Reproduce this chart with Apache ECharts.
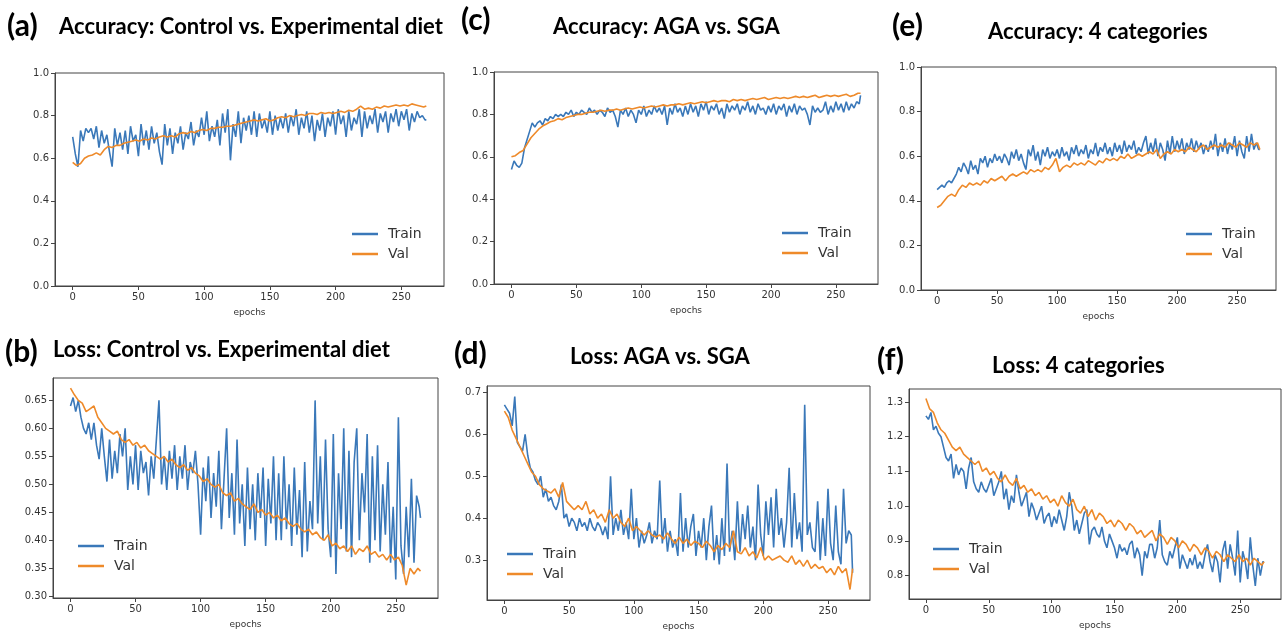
<!DOCTYPE html>
<html>
<head>
<meta charset="utf-8">
<script src="https://cdn.jsdelivr.net/npm/echarts@6/dist/echarts.min.js"></script>
<style>
  html, body { margin: 0; padding: 0; background: #fff; }
  #chart { width: 1282px; height: 632px; }
</style>
</head>
<body>
<div id="chart"></div>
<script>
// train curves are read every 2 epochs, val curves every 3 (plus the last epoch)
const trainEpochs = [0,2,4,6,8,10,12,14,16,18,20,22,24,26,28,30,32,34,36,38,40,42,44,46,48,50,52,54,56,58,
  60,62,64,66,68,70,72,74,76,78,80,82,84,86,88,90,92,94,96,98,100,102,104,106,108,110,112,114,116,118,
  120,122,124,126,128,130,132,134,136,138,140,142,144,146,148,150,152,154,156,158,160,162,164,166,168,170,172,174,176,178,
  180,182,184,186,188,190,192,194,196,198,200,202,204,206,208,210,212,214,216,218,220,222,224,226,228,230,232,234,236,238,
  240,242,244,246,248,250,252,254,256,258,260,262,264,266,268,269]
const valEpochs = [0,3,6,9,12,15,18,21,24,27,30,33,36,39,42,45,48,51,54,57,60,63,66,69,72,75,78,81,84,87,
  90,93,96,99,102,105,108,111,114,117,120,123,126,129,132,135,138,141,144,147,150,153,156,159,162,165,168,171,174,177,
  180,183,186,189,192,195,198,201,204,207,210,213,216,219,222,225,228,231,234,237,240,243,246,249,252,255,258,261,264,267,269]

// (a) accuracy: control vs experimental diet
const trainAccA = [0.70,0.62,0.56,0.73,0.68,0.74,0.72,0.74,0.69,0.75,
  0.65,0.73,0.67,0.71,0.63,0.56,0.74,0.66,0.72,0.64,
  0.73,0.62,0.75,0.68,0.71,0.61,0.76,0.66,0.73,0.64,
  0.75,0.67,0.72,0.63,0.57,0.76,0.66,0.74,0.62,0.72,
  0.67,0.75,0.64,0.72,0.69,0.77,0.66,0.73,0.70,0.79,
  0.71,0.82,0.68,0.75,0.70,0.78,0.66,0.81,0.72,0.83,
  0.59,0.76,0.70,0.82,0.67,0.79,0.73,0.80,0.71,0.82,
  0.70,0.81,0.74,0.78,0.72,0.82,0.71,0.80,0.73,0.79,
  0.74,0.81,0.72,0.80,0.75,0.83,0.71,0.79,0.74,0.82,
  0.72,0.80,0.68,0.78,0.73,0.81,0.70,0.79,0.75,0.82,
  0.71,0.83,0.76,0.80,0.70,0.82,0.73,0.79,0.76,0.83,
  0.70,0.82,0.74,0.80,0.76,0.83,0.72,0.81,0.77,0.82,
  0.72,0.81,0.77,0.83,0.75,0.82,0.78,0.83,0.73,0.81,
  0.77,0.82,0.79,0.80,0.78,0.78]
const valAccA = [0.58,0.565,0.575,0.60,0.61,0.615,0.625,0.615,0.64,0.655,
  0.65,0.66,0.66,0.67,0.675,0.68,0.685,0.68,0.69,0.685,
  0.695,0.69,0.70,0.705,0.70,0.705,0.70,0.715,0.72,0.715,
  0.725,0.72,0.73,0.735,0.73,0.74,0.74,0.745,0.745,0.75,
  0.75,0.755,0.76,0.765,0.77,0.775,0.78,0.775,0.78,0.785,
  0.775,0.78,0.79,0.795,0.79,0.80,0.795,0.80,0.805,0.80,
  0.81,0.81,0.805,0.815,0.81,0.815,0.81,0.815,0.82,0.815,
  0.825,0.82,0.83,0.845,0.83,0.835,0.83,0.84,0.835,0.845,
  0.84,0.845,0.85,0.845,0.85,0.845,0.855,0.85,0.845,0.84,0.845]

// (c) accuracy: AGA vs SGA
const trainAccC = [0.54,0.58,0.56,0.55,0.57,0.64,0.68,0.72,0.76,0.74,
  0.76,0.77,0.75,0.78,0.77,0.79,0.78,0.80,0.79,0.80,
  0.79,0.81,0.80,0.82,0.79,0.81,0.80,0.82,0.81,0.80,
  0.83,0.81,0.82,0.80,0.82,0.81,0.79,0.83,0.81,0.82,
  0.79,0.74,0.82,0.80,0.83,0.79,0.82,0.80,0.76,0.82,
  0.80,0.84,0.79,0.82,0.80,0.84,0.81,0.83,0.80,0.84,
  0.75,0.83,0.80,0.85,0.81,0.83,0.79,0.84,0.80,0.85,
  0.81,0.84,0.79,0.85,0.82,0.86,0.80,0.84,0.82,0.85,
  0.80,0.83,0.78,0.85,0.81,0.84,0.82,0.85,0.80,0.84,
  0.82,0.86,0.81,0.84,0.80,0.85,0.82,0.83,0.80,0.84,
  0.81,0.85,0.80,0.84,0.82,0.85,0.79,0.84,0.81,0.85,
  0.80,0.84,0.82,0.83,0.80,0.75,0.84,0.81,0.83,0.81,
  0.82,0.86,0.80,0.84,0.81,0.86,0.82,0.85,0.81,0.86,
  0.82,0.85,0.83,0.86,0.85,0.89]
const valAccC = [0.60,0.605,0.62,0.63,0.66,0.69,0.71,0.73,0.745,0.755,
  0.765,0.77,0.78,0.775,0.785,0.79,0.795,0.80,0.80,0.805,
  0.81,0.81,0.815,0.82,0.815,0.82,0.82,0.825,0.82,0.825,
  0.83,0.825,0.83,0.835,0.83,0.835,0.84,0.835,0.84,0.845,
  0.84,0.845,0.845,0.85,0.845,0.85,0.855,0.85,0.855,0.86,
  0.855,0.86,0.865,0.86,0.865,0.865,0.86,0.87,0.865,0.87,
  0.865,0.87,0.875,0.87,0.875,0.88,0.87,0.875,0.88,0.875,
  0.88,0.875,0.88,0.885,0.88,0.885,0.88,0.885,0.89,0.88,
  0.885,0.89,0.885,0.89,0.885,0.89,0.895,0.885,0.89,0.90,0.90]

// (e) accuracy: 4 categories
const trainAccE = [0.45,0.46,0.47,0.46,0.48,0.49,0.48,0.50,0.52,0.55,
  0.53,0.57,0.55,0.52,0.58,0.54,0.56,0.52,0.59,0.57,
  0.60,0.55,0.59,0.57,0.61,0.58,0.60,0.57,0.61,0.59,
  0.56,0.62,0.59,0.63,0.58,0.61,0.57,0.54,0.63,0.60,
  0.65,0.58,0.62,0.56,0.63,0.60,0.64,0.59,0.62,0.60,
  0.63,0.59,0.64,0.60,0.62,0.58,0.64,0.61,0.65,0.60,
  0.63,0.61,0.65,0.59,0.63,0.61,0.66,0.60,0.64,0.62,
  0.66,0.61,0.64,0.60,0.66,0.62,0.65,0.61,0.67,0.62,
  0.65,0.63,0.67,0.61,0.64,0.62,0.66,0.69,0.61,0.66,
  0.62,0.68,0.60,0.66,0.63,0.58,0.67,0.61,0.69,0.62,
  0.67,0.63,0.68,0.61,0.66,0.63,0.68,0.62,0.67,0.63,
  0.66,0.61,0.65,0.62,0.67,0.63,0.70,0.60,0.66,0.62,
  0.68,0.61,0.66,0.63,0.69,0.60,0.67,0.62,0.59,0.69,
  0.62,0.70,0.63,0.66,0.63,0.63]
const valAccE = [0.37,0.38,0.40,0.42,0.43,0.42,0.45,0.47,0.46,0.48,
  0.47,0.48,0.47,0.49,0.48,0.50,0.49,0.50,0.51,0.49,
  0.51,0.52,0.51,0.52,0.53,0.52,0.54,0.53,0.54,0.53,
  0.55,0.54,0.56,0.59,0.53,0.55,0.56,0.55,0.57,0.56,
  0.57,0.56,0.58,0.57,0.56,0.58,0.57,0.59,0.58,0.59,
  0.58,0.60,0.59,0.61,0.59,0.60,0.61,0.60,0.61,0.62,
  0.61,0.63,0.59,0.61,0.62,0.61,0.63,0.62,0.63,0.62,
  0.64,0.63,0.62,0.64,0.65,0.63,0.64,0.65,0.64,0.65,
  0.64,0.66,0.65,0.64,0.66,0.65,0.64,0.66,0.65,0.66,0.63]

// (b) loss: control vs experimental diet
const trainLossB = [0.64,0.655,0.63,0.65,0.62,0.60,0.59,0.61,0.58,0.61,
  0.57,0.545,0.60,0.55,0.505,0.58,0.51,0.56,0.52,0.59,
  0.55,0.60,0.49,0.55,0.50,0.57,0.49,0.56,0.52,0.54,
  0.48,0.55,0.51,0.58,0.65,0.50,0.55,0.49,0.56,0.51,
  0.57,0.49,0.55,0.51,0.57,0.49,0.54,0.52,0.56,0.50,
  0.41,0.53,0.47,0.55,0.44,0.52,0.46,0.56,0.42,0.51,
  0.60,0.44,0.52,0.41,0.58,0.43,0.50,0.39,0.53,0.42,
  0.50,0.40,0.52,0.44,0.53,0.39,0.51,0.43,0.55,0.40,
  0.52,0.40,0.55,0.42,0.50,0.39,0.53,0.41,0.49,0.37,
  0.54,0.38,0.47,0.42,0.65,0.43,0.55,0.40,0.58,0.42,
  0.37,0.59,0.34,0.52,0.42,0.60,0.38,0.56,0.37,0.54,
  0.60,0.40,0.52,0.45,0.59,0.36,0.55,0.40,0.57,0.38,
  0.50,0.41,0.54,0.36,0.46,0.33,0.62,0.39,0.34,0.46,
  0.37,0.51,0.36,0.48,0.46,0.44]
const valLossB = [0.672,0.66,0.65,0.645,0.63,0.635,0.64,0.62,0.61,0.60,
  0.595,0.59,0.595,0.58,0.575,0.58,0.57,0.575,0.565,0.57,
  0.56,0.555,0.55,0.545,0.55,0.54,0.545,0.535,0.53,0.535,
  0.525,0.53,0.52,0.515,0.505,0.51,0.50,0.495,0.50,0.485,
  0.48,0.485,0.47,0.475,0.465,0.46,0.455,0.465,0.45,0.455,
  0.445,0.45,0.44,0.445,0.435,0.44,0.43,0.425,0.43,0.42,
  0.415,0.42,0.41,0.415,0.405,0.40,0.41,0.39,0.395,0.385,
  0.39,0.38,0.39,0.375,0.385,0.38,0.39,0.375,0.38,0.37,
  0.375,0.365,0.375,0.365,0.37,0.355,0.32,0.35,0.34,0.35,0.345]

// (d) loss: AGA vs SGA
const trainLossD = [0.67,0.66,0.65,0.62,0.69,0.58,0.57,0.56,0.60,0.55,
  0.52,0.51,0.49,0.48,0.50,0.45,0.47,0.44,0.45,0.43,
  0.42,0.44,0.48,0.40,0.41,0.38,0.40,0.39,0.37,0.40,
  0.38,0.39,0.37,0.40,0.38,0.37,0.39,0.38,0.36,0.38,
  0.35,0.50,0.36,0.40,0.37,0.42,0.36,0.39,0.35,0.47,
  0.35,0.40,0.33,0.37,0.34,0.36,0.39,0.34,0.37,0.35,
  0.49,0.34,0.40,0.32,0.37,0.33,0.35,0.31,0.46,0.32,
  0.40,0.33,0.38,0.41,0.31,0.37,0.33,0.40,0.30,0.38,
  0.43,0.30,0.36,0.29,0.40,0.31,0.53,0.32,0.37,0.30,
  0.44,0.32,0.41,0.35,0.43,0.33,0.38,0.30,0.48,0.36,
  0.31,0.44,0.36,0.45,0.33,0.47,0.36,0.40,0.33,0.39,
  0.52,0.33,0.46,0.35,0.39,0.32,0.67,0.36,0.39,0.33,
  0.32,0.44,0.30,0.40,0.31,0.47,0.34,0.30,0.43,0.32,
  0.29,0.47,0.34,0.37,0.36,0.27]
const valLossD = [0.655,0.64,0.61,0.59,0.57,0.55,0.53,0.51,0.50,0.48,
  0.47,0.465,0.46,0.47,0.45,0.485,0.44,0.43,0.42,0.43,
  0.42,0.44,0.41,0.42,0.40,0.41,0.39,0.42,0.40,0.41,
  0.39,0.38,0.40,0.37,0.38,0.37,0.36,0.37,0.36,0.355,
  0.36,0.35,0.365,0.35,0.34,0.355,0.34,0.35,0.335,0.345,
  0.34,0.33,0.345,0.335,0.32,0.335,0.325,0.34,0.33,0.37,
  0.32,0.315,0.33,0.31,0.32,0.305,0.33,0.30,0.31,0.30,
  0.305,0.31,0.30,0.295,0.31,0.29,0.30,0.285,0.30,0.28,
  0.29,0.28,0.285,0.27,0.28,0.265,0.285,0.27,0.28,0.23,0.28]

// (f) loss: 4 categories
const trainLossF = [1.26,1.25,1.27,1.22,1.23,1.21,1.20,1.17,1.14,1.13,
  1.15,1.08,1.12,1.09,1.11,1.10,1.05,1.11,1.14,1.07,
  1.05,1.04,1.07,1.05,1.04,1.06,1.08,1.03,1.05,1.07,
  1.10,1.02,1.05,0.99,1.03,1.01,1.09,1.04,1.00,1.02,
  1.04,0.97,1.01,0.99,0.96,0.98,1.00,0.95,0.97,0.98,
  0.94,0.97,0.95,0.99,0.96,0.93,0.97,1.04,1.00,0.93,
  0.96,0.92,0.95,0.98,0.99,0.89,0.93,0.94,0.92,0.91,
  0.94,0.90,0.88,0.92,0.90,0.88,0.85,0.89,0.87,0.88,
  0.86,0.89,0.90,0.85,0.88,0.86,0.80,0.87,0.85,0.89,
  0.89,0.85,0.88,0.96,0.86,0.84,0.83,0.87,0.85,0.88,
  0.91,0.82,0.86,0.84,0.82,0.85,0.83,0.86,0.82,0.84,
  0.82,0.86,0.89,0.84,0.81,0.86,0.84,0.78,0.87,0.90,
  0.82,0.89,0.85,0.80,0.93,0.78,0.87,0.84,0.79,0.91,
  0.83,0.77,0.85,0.80,0.84,0.84]
const valLossF = [1.31,1.28,1.27,1.24,1.22,1.21,1.19,1.17,1.16,1.17,
  1.15,1.14,1.13,1.12,1.13,1.10,1.11,1.09,1.10,1.08,
  1.07,1.09,1.07,1.06,1.08,1.05,1.06,1.04,1.05,1.03,
  1.04,1.02,1.03,1.01,1.02,1.00,1.03,1.01,1.00,1.02,
  0.99,0.98,1.00,0.97,0.99,0.96,0.98,0.97,0.95,0.96,
  0.94,0.96,0.95,0.93,0.95,0.94,0.92,0.93,0.91,0.92,
  0.93,0.90,0.92,0.91,0.89,0.91,0.90,0.88,0.90,0.89,
  0.87,0.89,0.88,0.86,0.88,0.87,0.85,0.87,0.86,0.84,
  0.86,0.85,0.84,0.86,0.84,0.85,0.83,0.85,0.84,0.83,0.84]

const panelLetters = ['(a)', '(b)', '(c)', '(d)', '(e)', '(f)']
const panelTitles = [
  'Accuracy: Control vs. Experimental diet',
  'Loss: Control vs. Experimental diet',
  'Accuracy: AGA vs. SGA',
  'Loss: AGA vs. SGA',
  'Accuracy: 4 categories',
  'Loss: 4 categories'
]
const seriesNames = ['Train', 'Val']

const BLUE = '#3a78b9'
const ORANGE = '#ee8a2a'
const TEXT = '#333'

// layout of each panel (pixels)
const panels = [
  { train: trainAccA, val: valAccA, grid: [55, 73, 389, 213], y: [0, 1], step: 0.2, dec: 1,
    legend: [352, 226], letter: [7, 26], title: [59, 27] },
  { train: trainLossB, val: valLossB, grid: [53, 378, 385, 220], y: [0.297, 0.69], split: 8, dec: 2,
    legend: [78, 538], letter: [5, 352], title: [53, 350] },
  { train: trainAccC, val: valAccC, grid: [494, 72, 384, 212], y: [0, 1], step: 0.2, dec: 1,
    legend: [782, 225], letter: [461, 20], title: [553, 27] },
  { train: trainLossD, val: valLossD, grid: [487, 386, 383, 217], y: [0.205, 0.715], split: 5, dec: 1,
    legend: [507, 546], letter: [454, 354], title: [570, 357] },
  { train: trainAccE, val: valAccE, grid: [921, 67, 355, 223], y: [0, 1], step: 0.2, dec: 1,
    legend: [1186, 226], letter: [892, 26], title: [988, 32] },
  { train: trainLossF, val: valLossF, grid: [909, 389, 372, 210], y: [0.7325, 1.3375], split: 6, dec: 1,
    legend: [933, 541], letter: [877, 360], title: [992, 366] }
]

const pairs = (xs, ys) => ys.map((v, i) => [xs[i], v])

const grid = []
const xAxis = []
const yAxis = []
const series = []
const legend = []
const graphic = []

panels.forEach((p, i) => {
  grid.push({
    left: p.grid[0], top: p.grid[1], width: p.grid[2], height: p.grid[3],
    show: true, borderColor: '#444', borderWidth: 1, backgroundColor: '#fff'
  })
  xAxis.push({
    type: 'value', gridIndex: i, min: -13.45, max: 282.45, splitNumber: 6,
    name: 'epochs', nameLocation: 'middle', nameGap: 22,
    nameTextStyle: { fontFamily: 'DejaVu Sans', fontSize: 9, color: TEXT },
    axisLine: { show: true, onZero: false, lineStyle: { color: '#444' } },
    axisTick: { show: true, length: 4, lineStyle: { color: '#444' } },
    axisLabel: {
      fontFamily: 'DejaVu Sans', fontSize: 10, color: TEXT, margin: 6,
      showMinLabel: false, showMaxLabel: false,
      formatter: v => (Math.abs(v % 50) < 1e-6 ? String(v) : '')
    },
    splitLine: { show: false }
  })
  const yAx = {
    type: 'value', gridIndex: i, min: p.y[0], max: p.y[1],
    axisLine: { show: true, onZero: false, lineStyle: { color: '#444' } },
    axisTick: { show: true, length: 4, lineStyle: { color: '#444' } },
    axisLabel: {
      fontFamily: 'DejaVu Sans', fontSize: 10, color: TEXT, margin: 6,
      formatter: v => v.toFixed(p.dec)
    },
    splitLine: { show: false }
  }
  if (p.step) {
    yAx.interval = p.step
  } else {
    yAx.splitNumber = p.split
    yAx.axisLabel.showMinLabel = false
    yAx.axisLabel.showMaxLabel = false
  }
  yAxis.push(yAx)

  series.push({
    name: 'Train', type: 'line', xAxisIndex: i, yAxisIndex: i,
    data: pairs(trainEpochs, p.train), showSymbol: false, animation: false,
    lineStyle: { color: BLUE, width: 1.6 }, itemStyle: { color: BLUE }
  })
  series.push({
    name: 'Val', type: 'line', xAxisIndex: i, yAxisIndex: i,
    data: pairs(valEpochs, p.val), showSymbol: false, animation: false,
    lineStyle: { color: ORANGE, width: 1.6 }, itemStyle: { color: ORANGE }
  })

  legend.push({
    data: seriesNames, orient: 'vertical', left: p.legend[0], top: p.legend[1],
    padding: 0, itemGap: 4, itemWidth: 26, itemHeight: 2.5, icon: 'rect',
    selectedMode: false,
    textStyle: { fontFamily: 'DejaVu Sans', fontSize: 14, color: TEXT, lineHeight: 16, padding: [0, 0, 0, 5] }
  })

  graphic.push({
    type: 'text', x: p.letter[0], y: p.letter[1],
    style: { text: panelLetters[i], font: 'bold 30px Lato', fill: '#000', verticalAlign: 'middle' }
  })
  graphic.push({
    type: 'text', x: p.title[0], y: p.title[1],
    style: { text: panelTitles[i], font: 'bold 22px Lato', fill: '#000', verticalAlign: 'middle' }
  })
})

const chart = echarts.init(document.getElementById('chart'))
chart.setOption({
  animation: false,
  backgroundColor: '#fff',
  grid, xAxis, yAxis, series, legend, graphic
})
window.addEventListener('resize', () => chart.resize())
</script>
</body>
</html>
